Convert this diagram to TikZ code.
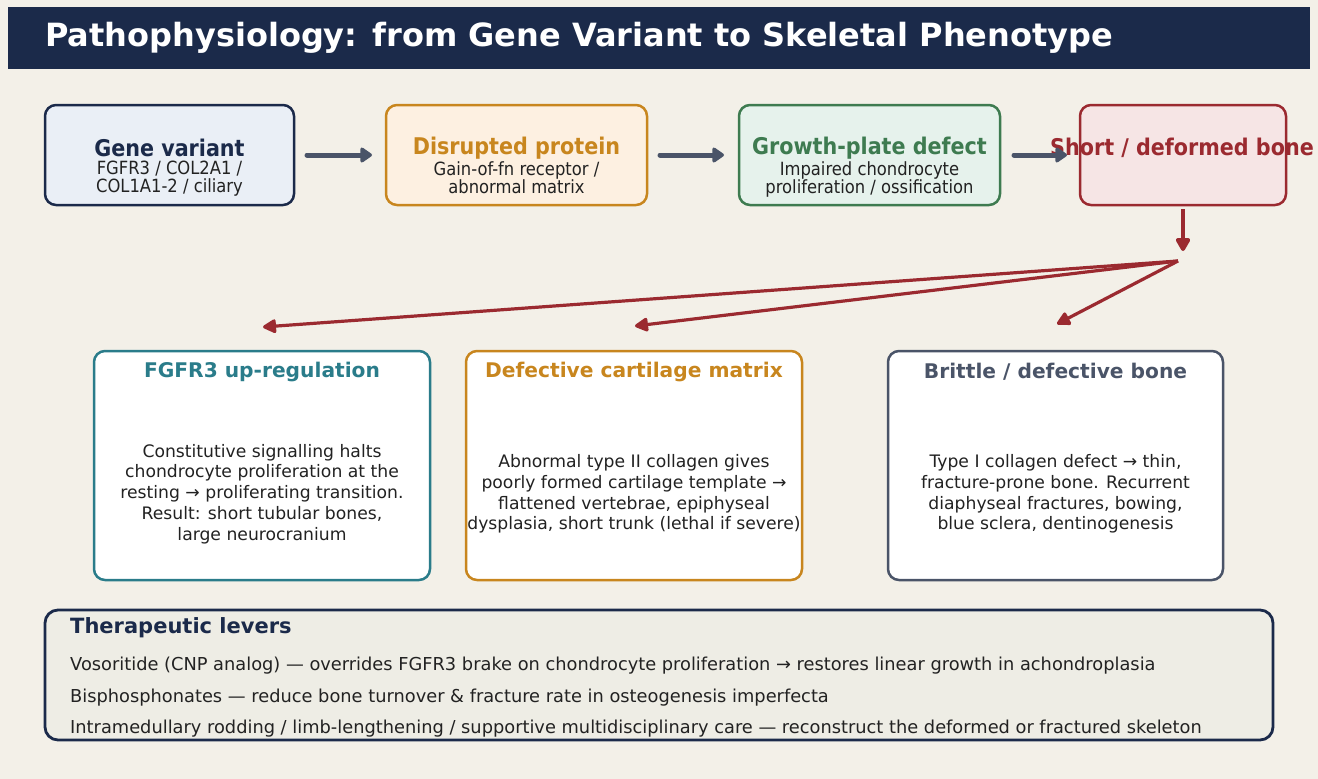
\documentclass[tikz,border=0pt]{standalone}
\usepackage{fontspec}
\setmainfont{DejaVu Sans}
\newfontfamily\condfont{DejaVu Sans Condensed}
\usetikzlibrary{arrows.meta}
\definecolor{bgc}{HTML}{F3F0E8}
\definecolor{navy}{HTML}{1B2A4A}
\definecolor{amber}{HTML}{C8861E}
\definecolor{leaf}{HTML}{3E7B50}
\definecolor{wine}{HTML}{9B2A30}
\definecolor{teal}{HTML}{2A7C8A}
\definecolor{slate}{HTML}{4A5468}
\definecolor{ink}{HTML}{222222}
\definecolor{fillnavy}{HTML}{EAEFF6}
\definecolor{fillamber}{HTML}{FDF0E1}
\definecolor{fillleaf}{HTML}{E6F2EC}
\definecolor{fillwine}{HTML}{F6E5E5}
\definecolor{fillpanel}{HTML}{EEEDE5}
\begin{document}
\begin{tikzpicture}[x=1pt,y=-1pt,
  topbox/.style={draw=#1, line width=2.5pt, rounded corners=11pt},
  lowbox/.style={draw=#1, fill=white, line width=2.5pt, rounded corners=11pt},
  toptitle/.style={font=\condfont\fontsize{23}{26}\selectfont\bfseries, text=#1, inner sep=0pt},
  topsub/.style={font=\condfont\fontsize{18.2}{17.5}\selectfont, text=ink, align=center, inner sep=0pt},
  lowtitle/.style={font=\fontsize{20.2}{23}\selectfont\bfseries, text=#1, inner sep=0pt},
  lowbody/.style={font=\fontsize{17.2}{20.8}\selectfont, text=ink, align=center, inner sep=0pt},
  flow/.style={draw=slate, line width=5pt, line cap=round, -{Triangle[length=13pt,width=17pt,round]}},
  fan/.style={draw=wine, line width=3.2pt, -{Triangle[length=15pt,width=15pt,round]}},
  drop/.style={draw=wine, line width=4pt, -{Triangle[length=15pt,width=16pt,round]}},
  lever/.style={font=\fontsize{17.8}{20}\selectfont, text=ink, anchor=west, inner sep=0pt}]
% page and header band
\fill[bgc] (0,0) rectangle (1318,779);
\useasboundingbox (0,0) rectangle (1318,779);
\fill[navy] (8,7) rectangle (1310,69);
\node[anchor=west, inner sep=0pt, text=white, font=\fontsize{32}{36}\selectfont\bfseries] (head) at (45,38)
  {Pathophysiology: from Gene Variant to Skeletal Phenotype};

% causal chain
\draw[topbox=navy, fill=fillnavy] (45,105) rectangle (294,205);
\node[toptitle=navy] (t1) at (169.5,148) {Gene variant};
\node[topsub, anchor=north] (s1) at (169.5,161) {FGFR3 / COL2A1 /\\COL1A1-2 / ciliary};

\draw[topbox=amber, fill=fillamber] (386,105) rectangle (647,205);
\node[toptitle=amber] (t2) at (516.5,148) {Disrupted protein};
\node[topsub, anchor=north] (s2) at (516.5,161) {Gain-of-fn receptor /\\abnormal matrix};

\draw[topbox=leaf, fill=fillleaf] (739,105) rectangle (1000,205);
\node[toptitle=leaf] (t3) at (869.5,148) {Growth-plate defect};
\node[topsub, anchor=north] (s3) at (869.5,161) {Impaired chondrocyte\\proliferation / ossification};

\draw[topbox=wine, fill=fillwine] (1080,105) rectangle (1286,205);
\node[toptitle=wine] (t4) at (1182,148) {Short / deformed bone};

\coordinate (a1s) at (307,155); \coordinate (a1e) at (372,155);
\coordinate (a2s) at (660,155); \coordinate (a2e) at (724,155);
\coordinate (a3s) at (1014,155); \coordinate (a3e) at (1067,155);
\draw[flow] (a1s) -- (a1e);
\draw[flow] (a2s) -- (a2e);
\draw[flow] (a3s) -- (a3e);

% fan-out to the three mechanisms
\coordinate (dn0) at (1183,209);
\coordinate (dn1) at (1183,251);
\coordinate (hub) at (1178,261);
\coordinate (e1) at (263,327);
\coordinate (e2) at (635,326);
\coordinate (e3) at (1057,324);
\draw[drop] (dn0) -- (dn1);
\draw[fan] (hub) -- (e1);
\draw[fan] (hub) -- (e2);
\draw[fan] (hub) -- (e3);

% mechanism panels
\draw[lowbox=teal] (94,351) rectangle (430,580);
\node[lowtitle=teal] (m1) at (262,372) {FGFR3 up-regulation};
\node[lowbody] (d1) at (262,494) {Constitutive signalling halts\\chondrocyte proliferation at the\\resting → proliferating transition.\\Result: short tubular bones,\\large neurocranium};

\draw[lowbox=amber] (466,351) rectangle (802,580);
\node[lowtitle=amber] (m2) at (634,372) {Defective cartilage matrix};
\node[lowbody] (d2) at (634,494) {Abnormal type II collagen gives\\poorly formed cartilage template →\\flattened vertebrae, epiphyseal\\dysplasia, short trunk (lethal if severe)};

\draw[lowbox=slate] (888,351) rectangle (1223,580);
\node[lowtitle=slate] (m3) at (1055.5,372) {Brittle / defective bone};
\node[lowbody] (d3) at (1055.5,494) {Type I collagen defect → thin,\\fracture-prone bone. Recurrent\\diaphyseal fractures, bowing,\\blue sclera, dentinogenesis};

% treatment summary
\draw[draw=navy, fill=fillpanel, line width=2.8pt, rounded corners=13pt] (45,610) rectangle (1273,740);
\node[anchor=west, inner sep=0pt, text=navy, font=\fontsize{21}{24}\selectfont\bfseries] (tl) at (70,628) {Therapeutic levers};
\node[lever] (l1) at (70,666) {Vosoritide (CNP analog) — overrides FGFR3 brake on chondrocyte proliferation → restores linear growth in achondroplasia};
\node[lever] (l2) at (70,698) {Bisphosphonates — reduce bone turnover \& fracture rate in osteogenesis imperfecta};
\node[lever] (l3) at (70,729) {Intramedullary rodding / limb-lengthening / supportive multidisciplinary care — reconstruct the deformed or fractured skeleton};
\end{tikzpicture}
\end{document}
